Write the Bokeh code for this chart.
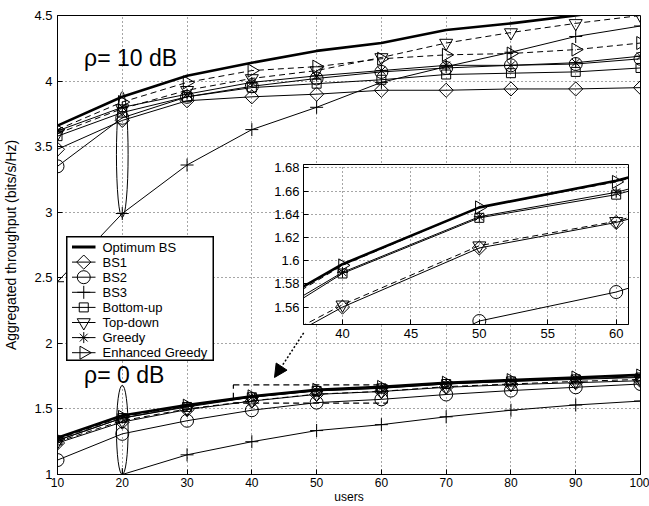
import math
from bokeh.plotting import figure
from bokeh.models import (Range1d, Label, Arrow, NormalHead, FixedTicker)
from bokeh.embed import file_html
from bokeh.resources import INLINE

# ---------------- data ----------------
users = [10, 20, 30, 40, 50, 60, 70, 80, 90, 100]
x_ticks = [10, 20, 30, 40, 50, 60, 70, 80, 90, 100]
y_ticks = [1, 1.5, 2, 2.5, 3, 3.5, 4, 4.5]
y_tick_labels = ["1", "1.5", "2", "2.5", "3", "3.5", "4", "4.5"]

series_names = ["Optimum BS", "BS1", "BS2", "BS3", "Bottom-up", "Top-down",
                "Greedy", "Enhanced Greedy"]

# rho = 10 dB
snr10_optimum = [3.66, 3.88, 4.04, 4.14, 4.23, 4.29, 4.39, 4.44, 4.50, 4.57]
snr10_bs1 = [3.48, 3.70, 3.85, 3.88, 3.90, 3.93, 3.93, 3.94, 3.94, 3.95]
snr10_bs2 = [3.35, 3.72, 3.88, 3.96, 4.02, 4.07, 4.10, 4.12, 4.13, 4.17]
snr10_bs3 = [2.47, 2.99, 3.36, 3.63, 3.80, 3.99, 4.11, 4.22, 4.34, 4.42]
snr10_bottomup = [3.58, 3.76, 3.88, 3.95, 3.98, 4.01, 4.05, 4.06, 4.07, 4.10]
snr10_topdown = [3.60, 3.79, 3.93, 4.02, 4.08, 4.18, 4.29, 4.37, 4.44, 4.50]
snr10_greedy = [3.62, 3.80, 3.90, 3.99, 4.04, 4.08, 4.12, 4.12, 4.14, 4.19]
snr10_enhanced = [3.63, 3.84, 3.99, 4.08, 4.11, 4.17, 4.20, 4.21, 4.24, 4.29]

# rho = 0 dB
snr0_optimum = [1.28, 1.45, 1.53, 1.597, 1.646, 1.669, 1.70, 1.72, 1.74, 1.76]
snr0_bs1 = [1.24, 1.40, 1.495, 1.560, 1.611, 1.633, 1.665, 1.685, 1.70, 1.715]
snr0_bs2 = [1.11, 1.31, 1.41, 1.49, 1.548, 1.573, 1.61, 1.64, 1.665, 1.69]
snr0_bs3 = [0.78, 1.00, 1.15, 1.25, 1.335, 1.38, 1.44, 1.49, 1.53, 1.56]
snr0_bottomup = [1.26, 1.43, 1.515, 1.589, 1.637, 1.657, 1.69, 1.71, 1.725, 1.74]
snr0_topdown = [1.25, 1.41, 1.50, 1.562, 1.613, 1.634, 1.67, 1.69, 1.71, 1.725]
snr0_greedy = [1.26, 1.43, 1.52, 1.590, 1.638, 1.659, 1.69, 1.71, 1.73, 1.745]
snr0_enhanced = [1.27, 1.44, 1.525, 1.596, 1.646, 1.668, 1.70, 1.72, 1.74, 1.755]

# zoomed inset
inset_x_range = [37.15, 60.9]
inset_y_range = [1.545, 1.683]
inset_x_ticks = [40, 45, 50, 55, 60]
inset_y_ticks = [1.56, 1.58, 1.60, 1.62, 1.64, 1.66, 1.68]
inset_y_tick_labels = ["1.56", "1.58", "1.6", "1.62", "1.64", "1.66", "1.68"]

# annotations
label_texts = ["\u03c1= 10 dB", "\u03c1= 0 dB"]
label_x = [14.1, 14.1]
label_y = [4.08, 1.66]
ellipse_x = [20, 20]
ellipse_y = [3.44, 1.34]
ellipse_h = [0.96, 0.68]
ellipse_w = [1.8, 1.8]
arrow_start = [48.0, 2.08]
arrow_end = [43.5, 1.74]

snr10 = dict(zip(series_names, [snr10_optimum, snr10_bs1, snr10_bs2, snr10_bs3,
                                snr10_bottomup, snr10_topdown, snr10_greedy, snr10_enhanced]))
snr0 = dict(zip(series_names, [snr0_optimum, snr0_bs1, snr0_bs2, snr0_bs3,
                               snr0_bottomup, snr0_topdown, snr0_greedy, snr0_enhanced]))

# ---------------- styles ----------------
FONT = "Liberation Sans"
styles = {
    "Optimum BS": dict(marker=None, size=0, angle=0, lw=2.6, dash="solid"),
    "BS1": dict(marker="square", size=10, angle=math.pi / 4, lw=1, dash="solid"),
    "BS2": dict(marker="circle", size=13, angle=0, lw=1, dash="solid"),
    "BS3": dict(marker="cross", size=13, angle=0, lw=1, dash="solid"),
    "Bottom-up": dict(marker="square", size=9, angle=0, lw=1, dash="solid"),
    "Top-down": dict(marker="inverted_triangle", size=13, angle=0, lw=1, dash="6 4"),
    "Greedy": dict(marker="asterisk", size=11, angle=0, lw=1, dash="solid"),
    "Enhanced Greedy": dict(marker="triangle", size=13, angle=-math.pi / 2, lw=1, dash="6 4"),
}


def style_axis(ax, size="12px"):
    ax.axis_line_color = "black"
    ax.major_tick_line_color = "black"
    ax.major_tick_in = 5
    ax.major_tick_out = 0
    ax.minor_tick_line_color = None
    ax.major_label_text_font = FONT
    ax.major_label_text_font_size = size
    ax.major_label_text_color = "black"
    ax.axis_label_text_font = FONT
    ax.axis_label_text_font_style = "normal"
    ax.axis_label_text_color = "black"


def style_grid(fig):
    for g in (fig.xgrid[0], fig.ygrid[0]):
        g.grid_line_color = "black"
        g.grid_line_alpha = 0.7
        g.grid_line_dash = "1 3"
        g.grid_line_width = 1


def draw_series(fig):
    for name in series_names:
        st = styles[name]
        for vals in (snr10[name], snr0[name]):
            fig.line(users, vals, line_color="black", line_width=st["lw"],
                     line_dash=st["dash"])
            if st["marker"]:
                fig.scatter(users, vals, marker=st["marker"], size=st["size"],
                            angle=st["angle"], fill_color=None, line_color="black",
                            line_width=1)


# ---------------- main figure ----------------
p = figure(width=649, height=506, output_backend="svg", toolbar_location=None,
           x_range=Range1d(10, 100), y_range=Range1d(1, 4.5),
           min_border_left=55, min_border_right=9, min_border_top=15, min_border_bottom=30,
           background_fill_color="white", border_fill_color="white")
p.outline_line_color = "black"

xax = p.below[0]
yax = p.left[0]
xax.ticker = FixedTicker(ticks=x_ticks)
yax.ticker = FixedTicker(ticks=y_ticks)
yax.major_label_overrides = {t: l for t, l in zip(y_ticks, y_tick_labels)}
style_axis(xax, "12px")
style_axis(yax, "13px")
xax.axis_label = "users"
xax.axis_label_text_font_size = "12px"
xax.axis_label_standoff = 0
xax.major_label_standoff = 3
yax.axis_label = "Aggregated throughput (bits/s/Hz)"
yax.axis_label_text_font_size = "14px"
yax.axis_label_standoff = 12
yax.major_label_standoff = 5

p.xgrid.ticker = FixedTicker(ticks=x_ticks)
p.ygrid.ticker = FixedTicker(ticks=y_ticks)
style_grid(p)

draw_series(p)

# ellipses marking the x=20 groups
p.ellipse(x=ellipse_x, y=ellipse_y, width=ellipse_w, height=ellipse_h,
          fill_color=None, line_color="black", line_width=1)

# dashed box showing the zoomed region
p.quad(left=[inset_x_range[0]], right=[inset_x_range[1]],
       bottom=[inset_y_range[0]], top=[inset_y_range[1]],
       fill_color=None, line_color="black", line_dash="6 4", line_width=1.2)

p.add_layout(Arrow(end=NormalHead(size=13, fill_color="black", line_color="black"),
                   x_start=arrow_start[0], y_start=arrow_start[1],
                   x_end=arrow_end[0], y_end=arrow_end[1],
                   line_dash="2 2", line_width=1.5, line_color="black"))

for t, lx, ly in zip(label_texts, label_x, label_y):
    p.add_layout(Label(x=lx, y=ly, text=t, text_font=FONT, text_font_size="23px",
                       text_color="black"))

# ---------------- inset ----------------
IL, IR, IT, IB = 40, 2, 9, 22
IW, IH = 325, 160
inset = figure(width=IL + IW + IR, height=IT + IH + IB, output_backend="svg",
               toolbar_location=None,
               x_range=Range1d(*inset_x_range), y_range=Range1d(*inset_y_range),
               min_border_left=IL, min_border_right=IR, min_border_top=IT,
               min_border_bottom=IB, background_fill_color="white",
               border_fill_color=None)
inset.outline_line_color = "black"
ixa = inset.below[0]
iya = inset.left[0]
ixa.ticker = FixedTicker(ticks=inset_x_ticks)
iya.ticker = FixedTicker(ticks=inset_y_ticks)
iya.major_label_overrides = {t: l for t, l in zip(inset_y_ticks, inset_y_tick_labels)}
style_axis(ixa, "13px")
style_axis(iya, "13px")
ixa.major_label_standoff = 4
iya.major_label_standoff = 4
inset.xgrid.ticker = FixedTicker(ticks=inset_x_ticks)
inset.ygrid.ticker = FixedTicker(ticks=inset_y_ticks)
style_grid(inset)
draw_series(inset)
inset.styles = {"position": "absolute", "left": f"{303 - IL}px", "top": f"{164 - IT}px"}

# ---------------- legend (overlay panel) ----------------
LW, LH = 148, 125
leg = figure(width=LW, height=LH, output_backend="svg", toolbar_location=None,
             x_range=Range1d(0, LW), y_range=Range1d(LH, 0),
             x_axis_type=None, y_axis_type=None,
             min_border_left=0, min_border_right=0, min_border_top=0, min_border_bottom=0,
             background_fill_color="white", border_fill_color="white")
leg.grid.visible = False
leg.outline_line_color = "black"
leg.outline_line_width = 2
LEG_TOP, LEG_PITCH = 10.5, 15.1
for i, name in enumerate(series_names):
    st = styles[name]
    yc = LEG_TOP + i * LEG_PITCH
    leg.line([5.5, 29], [yc, yc], line_color="black",
             line_width=st["lw"] + (0.6 if name == "Optimum BS" else 0))
    if st["marker"]:
        leg.scatter([17.25], [yc], marker=st["marker"], size=st["size"], angle=st["angle"],
                    fill_color=None, line_color="black", line_width=1)
    leg.add_layout(Label(x=36, y=yc, text=name, text_font=FONT, text_font_size="13px",
                         text_baseline="middle", text_color="black"))
leg.styles = {"position": "absolute", "left": "66px", "top": "236px"}

open("out.html", "w").write(file_html([p, inset, leg], INLINE))
